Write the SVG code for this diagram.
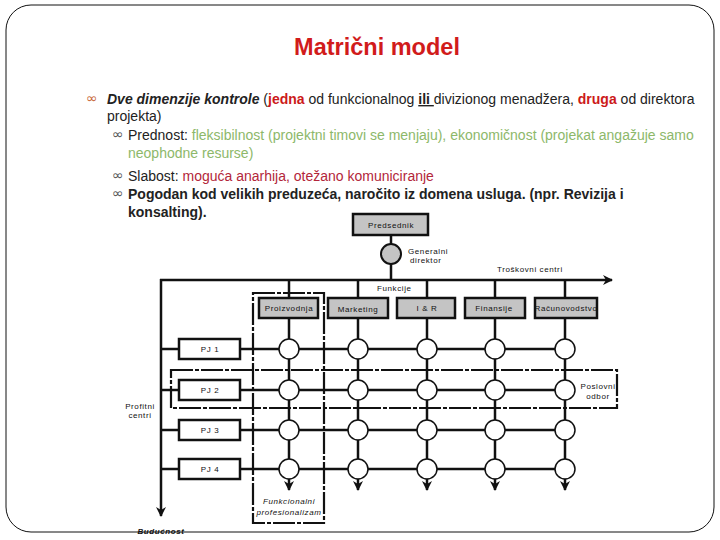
<svg xmlns="http://www.w3.org/2000/svg" width="720" height="540" viewBox="0 0 720 540">
<style>
.t{font-family:"Liberation Sans",Arial,sans-serif;font-size:14px;fill:#222}
.b{font-weight:bold}
.s{font-family:"Liberation Sans",Arial,sans-serif;font-size:8px;fill:#111;letter-spacing:0.6px}
.ln{stroke:#111;stroke-width:2.5;fill:none}
.fb{fill:#c4c4c4;stroke:#111;stroke-width:2.5}
.pj{fill:#fff;stroke:#111;stroke-width:2.5}
.c{fill:#fff;stroke:#111;stroke-width:1.5}
.d{fill:none;stroke:#111;stroke-width:2.2;stroke-dasharray:22 2 4 2}
.bul{font-family:"DejaVu Sans",sans-serif;font-size:14px}
</style>
<defs>
<marker id="ah" viewBox="0 0 10 10" refX="9" refY="5" markerWidth="4" markerHeight="4" orient="auto" markerUnits="strokeWidth">
<path d="M0,0 L10,5 L0,10 L3,5 z" fill="#111"/>
</marker>
</defs>
<rect x="6" y="5" width="708" height="527" rx="25" ry="25" fill="#fff" stroke="#111" stroke-width="1"/>
<text x="377" y="55" text-anchor="middle" font-family="Liberation Sans,Arial,sans-serif" font-size="23.5" font-weight="bold" fill="#d11b1b">Matrični model</text>

<g id="bullets">
<text x="86" y="103" class="bul" fill="#c8683a">∞</text>
<text x="107" y="104" class="t"><tspan class="b" font-style="italic">Dve dimenzije kontrole</tspan> (<tspan class="b" fill="#cc1a1a">jedna</tspan> od funkcionalnog <tspan class="b" text-decoration="underline">ili </tspan>divizionog menadžera, <tspan class="b" fill="#cc1a1a">druga</tspan> od direktora</text>
<text x="107" y="121" class="t">projekta)</text>
<text x="112" y="139" class="bul" fill="#555">∞</text>
<text x="128" y="140" class="t">Prednost: <tspan fill="#8db86a">fleksibilnost (projektni timovi se menjaju), ekonomičnost (projekat angažuje samo</tspan></text>
<text x="128" y="158" class="t" style="fill:#8db86a">neophodne resurse)</text>
<text x="112" y="180" class="bul" fill="#555">∞</text>
<text x="128" y="181" class="t">Slabost: <tspan fill="#b3263a">moguća anarhija, otežano komuniciranje</tspan></text>
<text x="112" y="198" class="bul" fill="#555">∞</text>
<text x="128" y="199" class="t b">Pogodan kod velikih preduzeća, naročito iz domena usluga. (npr. Revizija i</text>
<text x="128" y="217" class="t b">konsalting).</text>
</g>

<g id="connectors">
<line class="ln" x1="391" y1="236" x2="391" y2="280"/>
<line class="ln" x1="160" y1="280" x2="612" y2="280" marker-end="url(#ah)"/>
<line class="ln" x1="161" y1="279" x2="161" y2="516" marker-end="url(#ah)"/>
<line class="ln" x1="289" y1="280" x2="289" y2="298"/>
<line class="ln" x1="358" y1="280" x2="358" y2="298"/>
<line class="ln" x1="427" y1="280" x2="427" y2="298"/>
<line class="ln" x1="495" y1="280" x2="495" y2="298"/>
<line class="ln" x1="565" y1="280" x2="565" y2="298"/>
<line class="ln" x1="289" y1="318" x2="289" y2="490" marker-end="url(#ah)"/>
<line class="ln" x1="358" y1="318" x2="358" y2="490" marker-end="url(#ah)"/>
<line class="ln" x1="427" y1="318" x2="427" y2="490" marker-end="url(#ah)"/>
<line class="ln" x1="495" y1="318" x2="495" y2="490" marker-end="url(#ah)"/>
<line class="ln" x1="565" y1="318" x2="565" y2="490" marker-end="url(#ah)"/>
<line class="ln" x1="161" y1="349" x2="560" y2="349"/>
<line class="ln" x1="161" y1="390" x2="560" y2="390"/>
<line class="ln" x1="161" y1="430" x2="560" y2="430"/>
<line class="ln" x1="161" y1="469" x2="560" y2="469"/>
<rect class="d" x="253" y="293" width="71" height="230"/>
<rect class="d" x="171" y="370" width="446" height="38"/>
</g>

<g id="predsednik">
<rect class="fb" x="353" y="214" width="75" height="21"/>
<text class="s" x="391" y="228" text-anchor="middle">Predsednik</text>
</g>
<g id="generalni-direktor">
<circle cx="391" cy="254" r="10" fill="#c4c4c4" stroke="#111" stroke-width="2"/>
<text class="s" x="408" y="254">Generalni</text>
<text class="s" x="410" y="263">direktor</text>
</g>
<g id="troskovni-centri"><text class="s" x="497" y="272">Troškovni centri</text></g>
<g id="funkcije"><text class="s" x="377" y="291">Funkcije</text></g>

<g id="proizvodnja"><rect class="fb" x="259" y="298" width="59" height="20"/><text class="s" x="289" y="311" text-anchor="middle">Proizvodnja</text></g>
<g id="marketing"><rect class="fb" x="328" y="298" width="60" height="20"/><text class="s" x="358" y="312" text-anchor="middle">Marketing</text></g>
<g id="ir"><rect class="fb" x="397" y="298" width="58" height="20"/><text class="s" x="427" y="311" text-anchor="middle">I &amp; R</text></g>
<g id="finansije"><rect class="fb" x="465" y="298" width="60" height="20"/><text class="s" x="494" y="311" text-anchor="middle">Finansije</text></g>
<g id="racunovodstvo"><rect class="fb" x="535" y="298" width="62" height="20"/><text class="s" x="566" y="311" text-anchor="middle" letter-spacing="0">Računovodstvo</text></g>

<g id="pj1"><rect class="pj" x="179" y="339" width="61" height="20"/><text class="s" x="210" y="352" text-anchor="middle">PJ 1</text></g>
<g id="pj2"><rect class="pj" x="179" y="380" width="61" height="20"/><text class="s" x="210" y="393" text-anchor="middle">PJ 2</text></g>
<g id="pj3"><rect class="pj" x="179" y="420" width="61" height="20"/><text class="s" x="210" y="433" text-anchor="middle">PJ 3</text></g>
<g id="pj4"><rect class="pj" x="179" y="459" width="61" height="20"/><text class="s" x="210" y="472" text-anchor="middle">PJ 4</text></g>

<g id="cells">
<circle class="c" cx="289" cy="349" r="10"/><circle class="c" cx="358" cy="349" r="10"/><circle class="c" cx="427" cy="349" r="10"/><circle class="c" cx="495" cy="349" r="10"/><circle class="c" cx="565" cy="349" r="10"/>
<circle class="c" cx="289" cy="390" r="10"/><circle class="c" cx="358" cy="390" r="10"/><circle class="c" cx="427" cy="390" r="10"/><circle class="c" cx="495" cy="390" r="10"/><circle class="c" cx="565" cy="390" r="10"/>
<circle class="c" cx="289" cy="430" r="10"/><circle class="c" cx="358" cy="430" r="10"/><circle class="c" cx="427" cy="430" r="10"/><circle class="c" cx="495" cy="430" r="10"/><circle class="c" cx="565" cy="430" r="10"/>
<circle class="c" cx="289" cy="469" r="10"/><circle class="c" cx="358" cy="469" r="10"/><circle class="c" cx="427" cy="469" r="10"/><circle class="c" cx="495" cy="469" r="10"/><circle class="c" cx="565" cy="469" r="10"/>
</g>

<g id="poslovni-odbor"><text class="s" x="598" y="389" text-anchor="middle">Poslovni</text><text class="s" x="598" y="399" text-anchor="middle">odbor</text></g>
<g id="profitni-centri"><text class="s" x="140" y="409" text-anchor="middle">Profitni</text><text class="s" x="140" y="418" text-anchor="middle">centri</text></g>
<g id="funkcionalni"><text class="s" x="289" y="504" text-anchor="middle" font-style="italic">Funkcionalni</text><text class="s" x="289" y="515" text-anchor="middle" font-style="italic">profesionalizam</text></g>
<g id="buducnost"><text class="s" x="161" y="534" text-anchor="middle" font-style="italic" font-weight="bold">Budućnost</text></g>
</svg>
